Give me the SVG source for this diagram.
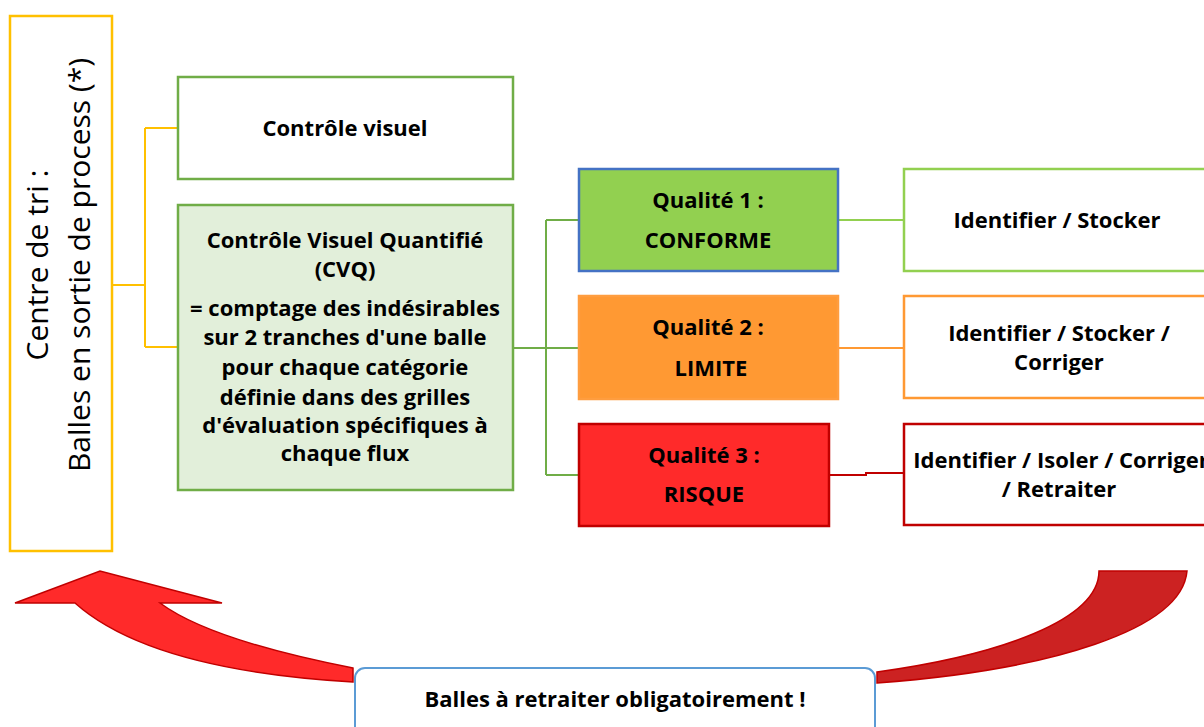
<svg xmlns="http://www.w3.org/2000/svg" width="1204" height="727" viewBox="0 0 1204 727">
<style>
text{font-family:"Open Sans","Liberation Sans",sans-serif;font-weight:bold;font-size:22px;fill:#000;text-anchor:middle}
.conn{fill:none;stroke-width:2}
.box{stroke-width:2.5}
</style>
<rect width="1204" height="727" fill="#fff"/>
<g id="arrow-back">
<path d="M1099,571 L1187,571 C1182,630 1050,670 877,683 L877,672 C1000,655 1099,620 1099,571 Z" fill="#CC2222" stroke="#C00000" stroke-width="1.5"/>
<path d="M353,682 Q150,670 75,603 L15,603 L100,571 L222,603 L160,603 Q210,640 353,668 Z" fill="#FF2A2A" stroke="#C00000" stroke-width="1.5"/>
</g>
<g id="connectors">
<path class="conn" stroke="#FFC000" d="M112,285 H145 M145,128 V347 M145,128 H178 M145,347 H178"/>
<path class="conn" stroke="#70AD47" d="M513,348 H546 M546,220 V475 M546,220 H579 M546,348 H579 M546,475 H579"/>
<path class="conn" stroke="#92D050" d="M838,220 H904"/>
<path class="conn" stroke="#FF9933" d="M838,348 H904"/>
<path class="conn" stroke="#C00000" d="M829,475 H866 V473 H904"/>
</g>
<g id="centre">
<rect class="box" x="10" y="16" width="102" height="535" fill="#fff" stroke="#FFC000"/>
<text transform="translate(48,265) rotate(-90)" style="font-weight:normal;font-size:30px">Centre de tri :</text>
<text transform="translate(90,265) rotate(-90)" style="font-weight:normal;font-size:30px">Balles en sortie de process (*)</text>
</g>
<g id="controle-visuel">
<rect class="box" x="178" y="77" width="335" height="102" fill="#fff" stroke="#70AD47"/>
<text x="345" y="136">Contrôle visuel</text>
</g>
<g id="cvq">
<rect class="box" x="178" y="205" width="335" height="285" fill="#E2EFDA" stroke="#70AD47"/>
<text x="345" y="248">Contrôle Visuel Quantifié</text>
<text x="345" y="277">(CVQ)</text>
<text x="345" y="316">= comptage des indésirables</text>
<text x="345" y="345">sur 2 tranches d'une balle</text>
<text x="345" y="375">pour chaque catégorie</text>
<text x="345" y="405">définie dans des grilles</text>
<text x="345" y="433">d'évaluation spécifiques à</text>
<text x="345" y="461">chaque flux</text>
</g>
<g id="q1">
<rect class="box" x="579" y="169" width="259" height="102" fill="#92D050" stroke="#4472C4"/>
<text x="708" y="208">Qualité 1 :</text>
<text x="708" y="248">CONFORME</text>
</g>
<g id="q2">
<rect class="box" x="579" y="296" width="259" height="103" fill="#FF9933" stroke="#FF9D3F"/>
<text x="708" y="335">Qualité 2 :</text>
<text x="711" y="376">LIMITE</text>
</g>
<g id="q3">
<rect class="box" x="579" y="424" width="250" height="102" fill="#FF2A2A" stroke="#C00000"/>
<text x="704" y="463">Qualité 3 :</text>
<text x="704" y="502">RISQUE</text>
</g>
<g id="r1">
<rect class="box" x="904" y="169" width="310" height="102" fill="#fff" stroke="#92D050"/>
<text x="1057" y="228">Identifier / Stocker</text>
</g>
<g id="r2">
<rect class="box" x="904" y="296" width="310" height="102" fill="#fff" stroke="#FF9933"/>
<text x="1059" y="341">Identifier / Stocker /</text>
<text x="1059" y="370">Corriger</text>
</g>
<g id="r3">
<rect class="box" x="904" y="424" width="310" height="101" fill="#fff" stroke="#C00000"/>
<text x="1061" y="468">Identifier / Isoler / Corriger</text>
<text x="1059" y="497">/ Retraiter</text>
</g>
<g id="retraiter">
<rect x="355" y="668" width="520" height="70" rx="10" fill="#fff" stroke="#5B9BD5" stroke-width="2"/>
<text x="615" y="707">Balles à retraiter obligatoirement !</text>
</g>
</svg>
